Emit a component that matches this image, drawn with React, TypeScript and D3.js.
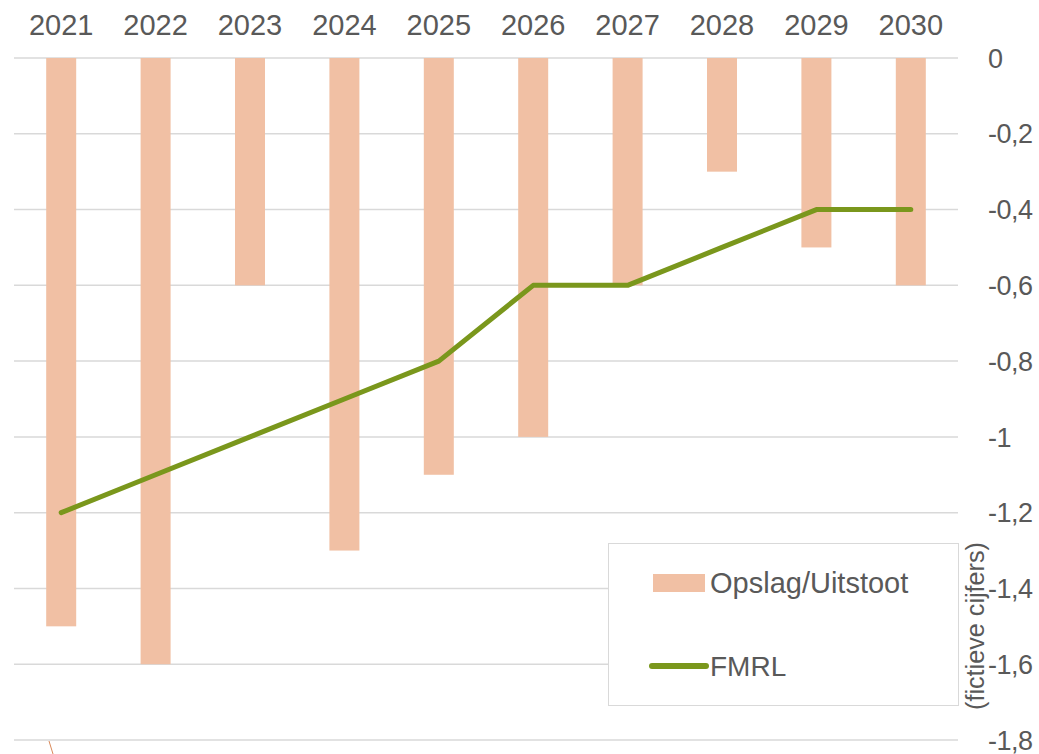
import React, { useEffect, useRef } from "react";
import * as d3 from "d3";

const years = ["2021", "2022", "2023", "2024", "2025", "2026", "2027", "2028", "2029", "2030"];
const opslag = [-1.5, -1.6, -0.6, -1.3, -1.1, -1.0, -0.6, -0.3, -0.5, -0.6];
const fmrl = [-1.2, -1.1, -1.0, -0.9, -0.8, -0.6, -0.6, -0.5, -0.4, -0.4];
const yTicks = [0, -0.2, -0.4, -0.6, -0.8, -1, -1.2, -1.4, -1.6, -1.8];

const W = 1039;
const H = 754;
const FONT = "'Liberation Sans', Arial, sans-serif";
const TXT = "#595959";

const fmt = (d: number) => (d === 0 ? "0" : "-" + d3.format(".1~f")(Math.abs(d)).replace(".", ","));

const App = () => {
  const ref = useRef<SVGSVGElement>(null);

  useEffect(() => {
    const svg = d3.select(ref.current);
    svg.selectAll("*").remove();

    const left = 14, right = 958, top = 58, bottom = 740;

    const x = d3.scaleBand().domain(years).range([left, right]).paddingInner(0).paddingOuter(0);
    const y = d3.scaleLinear().domain([0, -1.8]).range([top, bottom]);
    const barW = 30;

    // gridlines
    svg.append("g")
      .selectAll("line")
      .data(yTicks)
      .enter().append("line")
      .attr("x1", left).attr("x2", right)
      .attr("y1", d => y(d)).attr("y2", d => y(d))
      .attr("stroke", "#d9d9d9").attr("stroke-width", 1.5);

    // bars
    svg.append("g")
      .selectAll("rect")
      .data(years)
      .enter().append("rect")
      .attr("x", d => (x(d) as number) + x.bandwidth() / 2 - barW / 2)
      .attr("y", y(0))
      .attr("width", barW)
      .attr("height", (d, i) => y(opslag[i]) - y(0))
      .attr("fill", "#f1c0a4");

    // line
    const line = d3.line<number>()
      .x((d, i) => (x(years[i]) as number) + x.bandwidth() / 2)
      .y(d => y(d));
    svg.append("path")
      .datum(fmrl)
      .attr("d", line)
      .attr("fill", "none")
      .attr("stroke", "#7a971c")
      .attr("stroke-width", 5)
      .attr("stroke-linejoin", "round")
      .attr("stroke-linecap", "round");

    // year labels on top
    svg.append("g")
      .selectAll("text")
      .data(years)
      .enter().append("text")
      .attr("x", d => (x(d) as number) + x.bandwidth() / 2)
      .attr("y", 35)
      .attr("text-anchor", "middle")
      .attr("font-family", FONT)
      .attr("font-size", 29)
      .attr("fill", TXT)
      .text(d => d);

    // y tick labels on the right
    svg.append("g")
      .selectAll("text")
      .data(yTicks)
      .enter().append("text")
      .attr("x", 988)
      .attr("y", d => y(d))
      .attr("dy", "0.36em")
      .attr("font-family", FONT)
      .attr("font-size", 27)
      .attr("letter-spacing", -0.5)
      .attr("fill", TXT)
      .text(d => fmt(d));

    // legend
    const lg = svg.append("g");
    lg.append("rect")
      .attr("x", 608.5).attr("y", 543.5)
      .attr("width", 350).attr("height", 162)
      .attr("fill", "white")
      .attr("stroke", "#d9d9d9").attr("stroke-width", 1);
    lg.append("rect")
      .attr("x", 653).attr("y", 574)
      .attr("width", 52).attr("height", 18)
      .attr("fill", "#f1c0a4");
    lg.append("text")
      .attr("x", 710).attr("y", 593)
      .attr("font-family", FONT).attr("font-size", 29).attr("fill", TXT)
      .text("Opslag/Uitstoot");
    lg.append("line")
      .attr("x1", 652).attr("x2", 706)
      .attr("y1", 666).attr("y2", 666)
      .attr("stroke", "#7a971c").attr("stroke-width", 6)
      .attr("stroke-linecap", "round");
    lg.append("text")
      .attr("x", 710).attr("y", 676)
      .attr("font-family", FONT).attr("font-size", 28).attr("fill", TXT)
      .text("FMRL");

    // rotated note
    svg.append("text")
      .attr("transform", "translate(984,626) rotate(-90)")
      .attr("text-anchor", "middle")
      .attr("font-family", FONT)
      .attr("font-size", 25)
      .attr("textLength", 168)
      .attr("lengthAdjust", "spacingAndGlyphs")
      .attr("fill", TXT)
      .text("(fictieve cijfers)");

    // small stray stroke at bottom left
    svg.append("line")
      .attr("x1", 49).attr("y1", 741).attr("x2", 53).attr("y2", 754)
      .attr("stroke", "#d9895a").attr("stroke-width", 1);
  }, []);

  return <svg ref={ref} width={W} height={H} style={{ position: "absolute", left: 0, top: 0 }} />;
};

export default App;
